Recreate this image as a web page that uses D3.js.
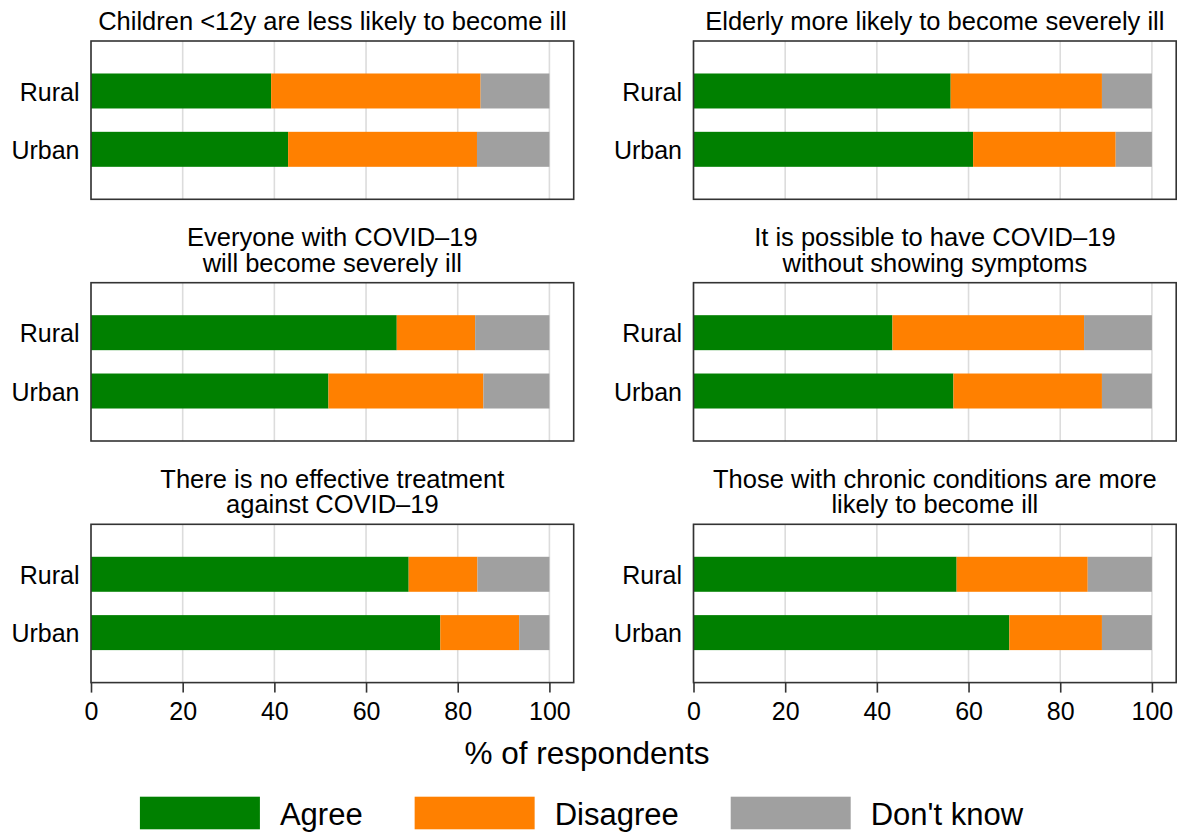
<!DOCTYPE html>
<html>
<head>
<meta charset="utf-8">
<script src="https://cdn.jsdelivr.net/npm/d3@7"></script>
<style>
body { margin: 0; background: #fff; }
text { font-family: "Liberation Sans", Arial, Helvetica, sans-serif; fill: #000; }
</style>
</head>
<body>
<svg id="chart" width="1177" height="834"></svg>
<script>
// one title per facet, "\n" splits the lines
var questions = [
	"Children <12y are less likely to become ill",
	"Elderly more likely to become severely ill",
	"Everyone with COVID\u201319\nwill become severely ill",
	"It is possible to have COVID\u201319\nwithout showing symptoms",
	"There is no effective treatment\nagainst COVID\u201319",
	"Those with chronic conditions are more\nlikely to become ill"
];
var groups = ["Rural", "Urban"];
var responses = ["Agree", "Disagree", "Don't know"];
var colours = ["#008000", "#ff8000", "#a0a0a0"];

// [rural, urban] per question, % of respondents
var agreeVals    = [[39.3, 43.0], [56.1, 61.0], [66.7, 51.8], [43.4, 56.7], [69.3, 76.2], [57.4, 68.9]];
var disagreeVals = [[45.7, 41.2], [33.0, 31.1], [17.1, 33.8], [41.8, 32.4], [15.0, 17.2], [28.6, 20.2]];
var dontKnowVals = [[15.0, 15.8], [10.9, 7.9], [16.2, 14.4], [14.8, 10.9], [15.7, 6.6], [14.0, 10.9]];

var xTicks = [0, 20, 40, 60, 80, 100];
var xTitle = "% of respondents";

var svg = d3.select("#chart");

var colLeft = [91, 693.5];
var rowTop = [41, 282.7, 524.3];
var panelW = 482.7, panelH = 158.3;

var x = d3.scaleLinear().domain([0, 105.3]).range([0, panelW]);
var y = d3.scaleBand().domain(groups).range([0, panelH])
	.paddingInner(0.4).paddingOuter(0.557);
var colour = d3.scaleOrdinal().domain(responses).range(colours);

var stack = d3.stack().keys(responses);

questions.forEach(function (q, i) {
	var col = i % 2, row = Math.floor(i / 2);
	var g = svg.append("g")
		.attr("transform", "translate(" + colLeft[col] + "," + rowTop[row] + ")");

	var rows = groups.map(function (grp, j) {
		return {
			group: grp,
			"Agree": agreeVals[i][j],
			"Disagree": disagreeVals[i][j],
			"Don't know": dontKnowVals[i][j]
		};
	});
	var series = stack(rows);

	// grid first, bars go over it
	g.selectAll(".grid").data(xTicks).enter().append("line")
		.attr("x1", function (d) { return x(d); })
		.attr("x2", function (d) { return x(d); })
		.attr("y1", 0).attr("y2", panelH)
		.style("stroke", "#dcdcdc")
		.style("stroke-width", 1.6);

	g.selectAll(".series").data(series).enter().append("g")
		.style("fill", function (s) { return colour(s.key); })
		.selectAll("rect").data(function (s) { return s; }).enter().append("rect")
		.attr("x", function (d) { return x(d[0]); })
		.attr("width", function (d) { return x(d[1]) - x(d[0]); })
		.attr("y", function (d) { return y(d.data.group); })
		.attr("height", y.bandwidth());

	g.append("rect")
		.attr("width", panelW).attr("height", panelH)
		.style("fill", "none")
		.style("stroke", "#333")
		.style("stroke-width", 1.6);

	var yAxis = g.append("g").call(d3.axisLeft(y).tickSize(0).tickPadding(11.5));
	yAxis.select(".domain").remove();
	yAxis.selectAll("text")
		.attr("dy", "0.39em")
		.style("font-size", "25px")
		.style("font-family", "Liberation Sans, Arial, sans-serif")
		.style("fill", "#000");

	if (row === 2) {
		var xAxis = g.append("g")
			.attr("transform", "translate(0," + panelH + ")")
			.call(d3.axisBottom(x).tickValues(xTicks).tickSize(10).tickPadding(10));
		xAxis.select(".domain").remove();
		xAxis.selectAll(".tick line").style("stroke", "#333").style("stroke-width", 1.6);
		xAxis.selectAll("text")
			.style("font-size", "25px")
			.style("font-family", "Liberation Sans, Arial, sans-serif")
			.style("fill", "#000");
	}

	var lines = q.split("\n");
	var title = g.append("text")
		.attr("text-anchor", "middle")
		.style("font-size", "25.5px");
	lines.forEach(function (l, k) {
		title.append("tspan")
			.attr("x", panelW / 2)
			.attr("y", -11 - (lines.length - 1 - k) * 25.7)
			.text(l);
	});
});

svg.append("text")
	.attr("x", 587).attr("y", 763.5)
	.attr("text-anchor", "middle")
	.style("font-size", "31.5px")
	.text(xTitle);

// legend, laid out left to right then centred
var legend = svg.append("g");
var keyW = 120, keyH = 32.6, gap = 20, itemGap = 52;
var cursor = 0;
responses.forEach(function (r) {
	var item = legend.append("g").attr("transform", "translate(" + cursor + ",0)");
	item.append("rect")
		.attr("width", keyW).attr("height", keyH)
		.style("fill", colour(r));
	var t = item.append("text")
		.attr("x", keyW + gap).attr("y", keyH / 2 + 12.5)
		.style("font-size", "31px")
		.text(r);
	cursor += keyW + gap + t.node().getComputedTextLength() + itemGap;
});
var legendW = cursor - itemGap;
legend.attr("transform", "translate(" + (581.5 - legendW / 2) + ",796.7)");
</script>
</body>
</html>
